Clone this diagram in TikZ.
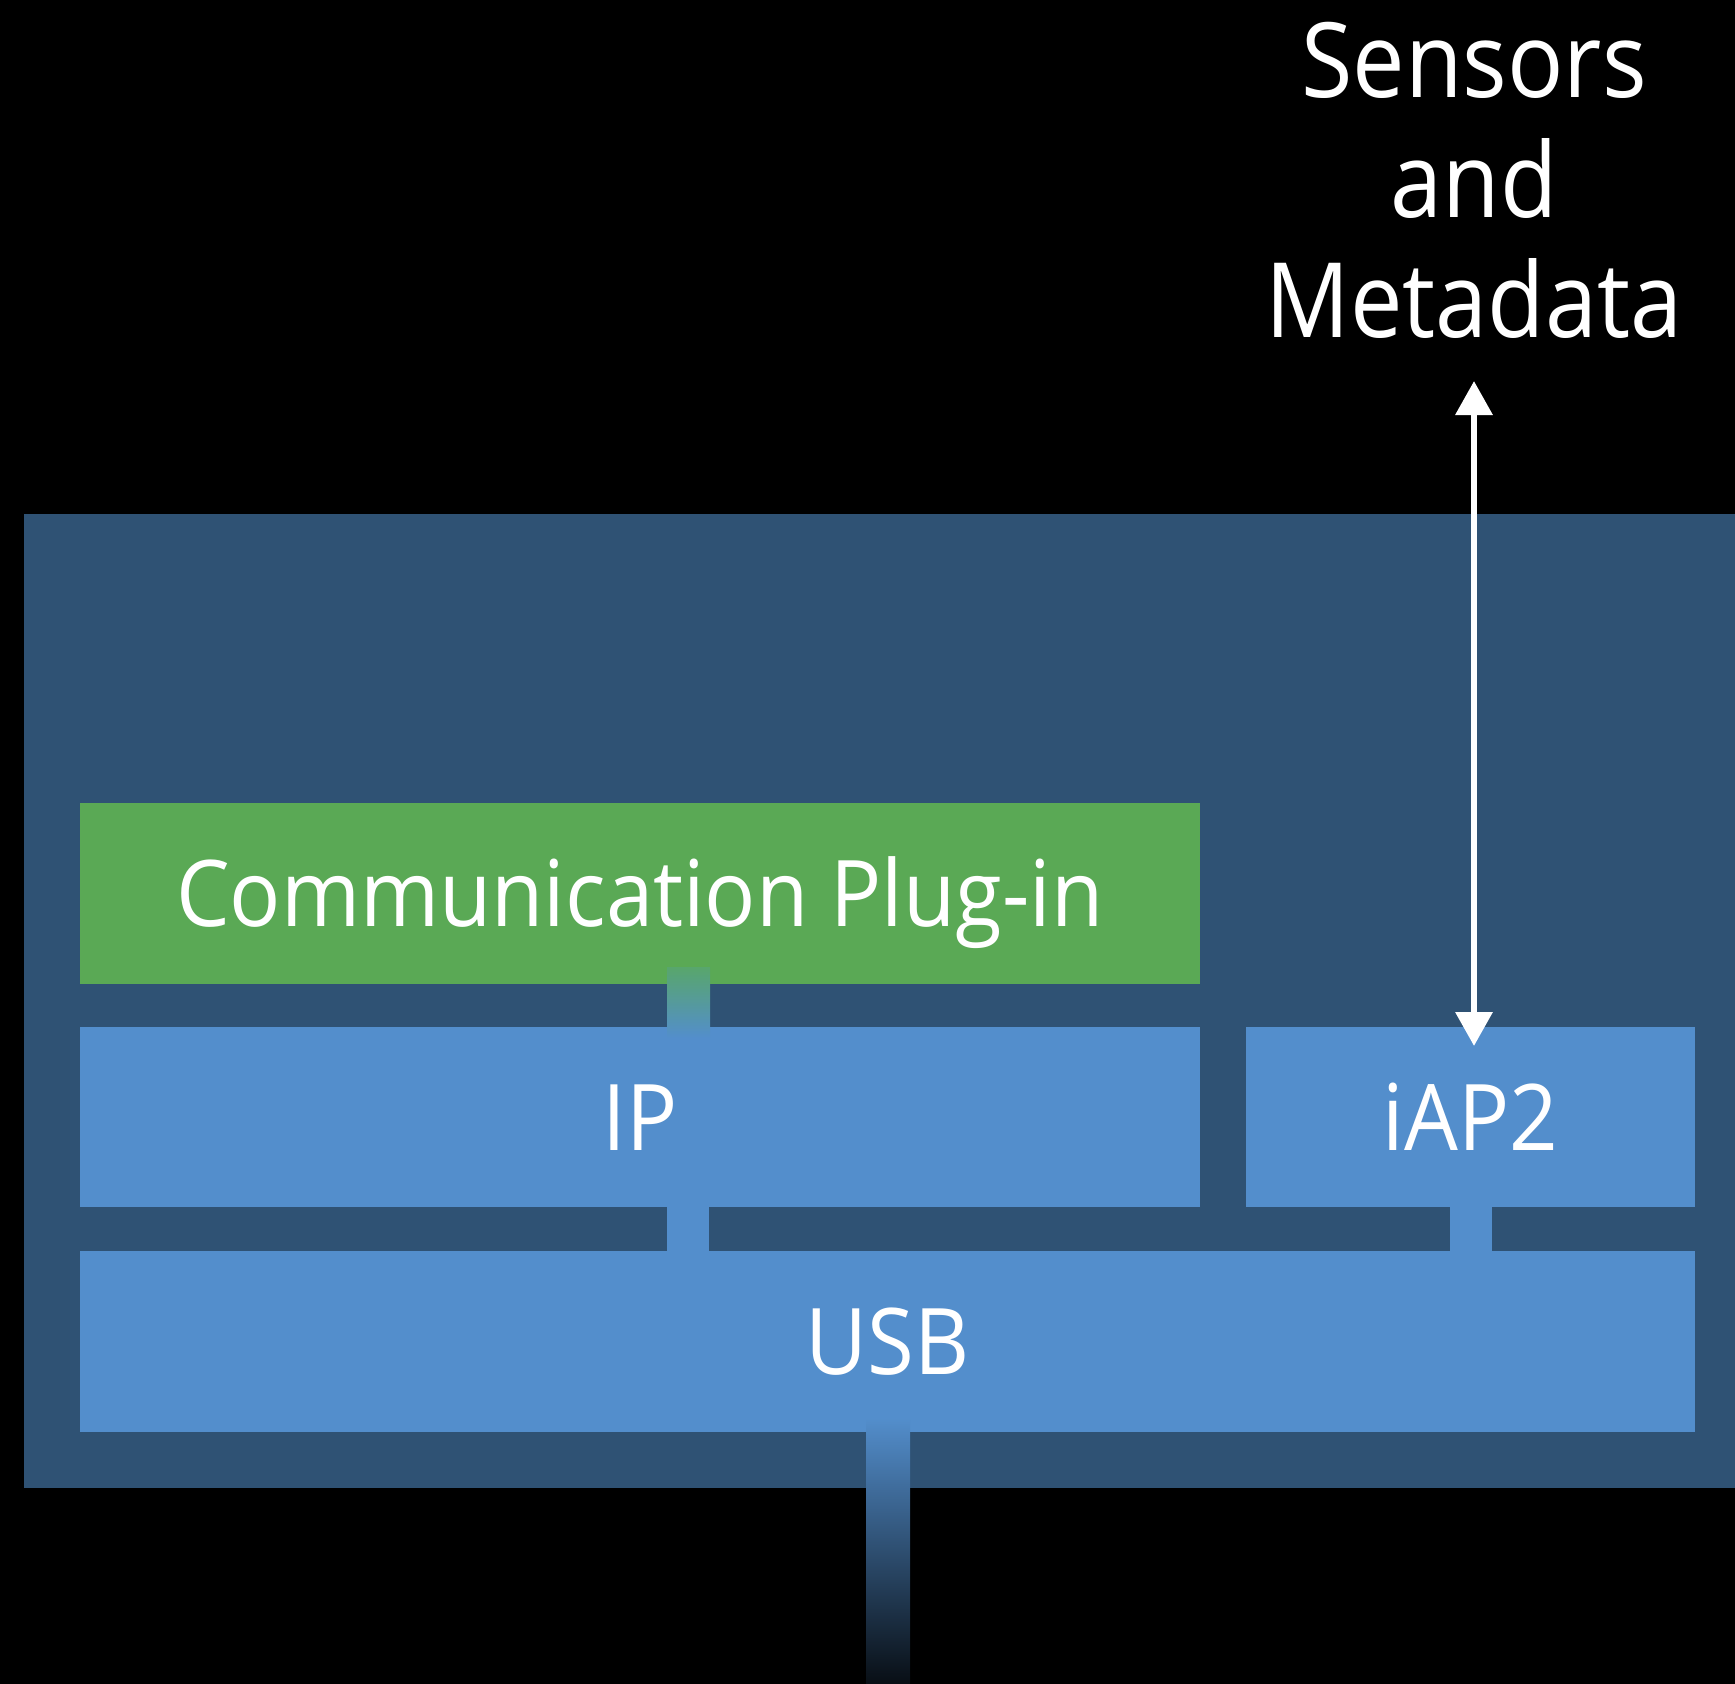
\documentclass[tikz,border=0pt]{standalone}
\usepackage{fontspec}
\setmainfont{Open Sans}
\newfontfamily\boxfont{Open Sans}[FakeStretch=0.925]
\newfontfamily\labelfont{Open Sans}[FakeStretch=0.90]
\usetikzlibrary{arrows.meta,calc}
\definecolor{panelc}{RGB}{47,82,116}
\definecolor{bluec}{RGB}{83,142,204}
\definecolor{greenc}{RGB}{90,169,85}
\definecolor{greenmix}{RGB}{88,166,108}
\tikzset{
  layer/.style={inner sep=0pt, outer sep=0pt, text=white, text height=66pt, text depth=0pt, font=\boxfont\fontsize{92}{100}\selectfont},
  bluebox/.style={layer, fill=bluec},
  greenbox/.style={layer, fill=greenc},
  link/.style={fill=bluec},
  dual/.style={draw=white, line width=6.5pt, {Triangle[width=36pt,length=34pt]}-{Triangle[width=36pt,length=34pt]}}
}
\begin{document}
\begin{tikzpicture}[x=1pt,y=-1pt]
\useasboundingbox (0,0) rectangle (1735,1684);
\fill[black] (0,0) rectangle (1735,1684);
% outer panel
\node[fill=panelc, inner sep=0pt, outer sep=0pt, minimum width=1711pt, minimum height=974pt] (panel) at (879.5,1001) {};
% layers
\node[greenbox, minimum width=1119.5pt, minimum height=181pt] (plugin) at (639.75,893.5) {Communication Plug-in};
\node[bluebox, minimum width=1119.5pt, minimum height=180pt] (ip) at (639.75,1117) {IP};
\node[bluebox, minimum width=449pt, minimum height=180pt] (iap) at (1470.5,1117) {iAP2};
\node[bluebox, minimum width=1615pt, minimum height=181pt] (usb) at (887.5,1341.5) {USB};
% connectors
\fill[link] ($(ip.south)+(27.25,0)$) rectangle ($(usb.north)+(-178.5,0)$);
\fill[link] ($(iap.south)+(-21,0)$) rectangle ($(usb.north)+(604,0)$);
\shade[top color=greenmix, bottom color=bluec] ($(plugin.south)+(27.25,-17)$) rectangle ($(ip.north)+(70.25,11)$);
\coordinate (cable) at (888,1684);
\shade[top color=bluec, bottom color=black!90!bluec] ($(usb.south)+(-21.5,-14)$) rectangle ($(cable)+(22,0)$);
% sensors label and arrow
\node[text=white, align=center, inner sep=0pt, anchor=base, font=\labelfont\fontsize{104}{120}\selectfont] (sensors) at (1474,337) {Sensors\\and\\Metadata};
\coordinate (atop) at (1474,381);
\coordinate (abot) at (1474,1046);
\draw[dual] (atop) -- (abot);
\end{tikzpicture}
\end{document}
